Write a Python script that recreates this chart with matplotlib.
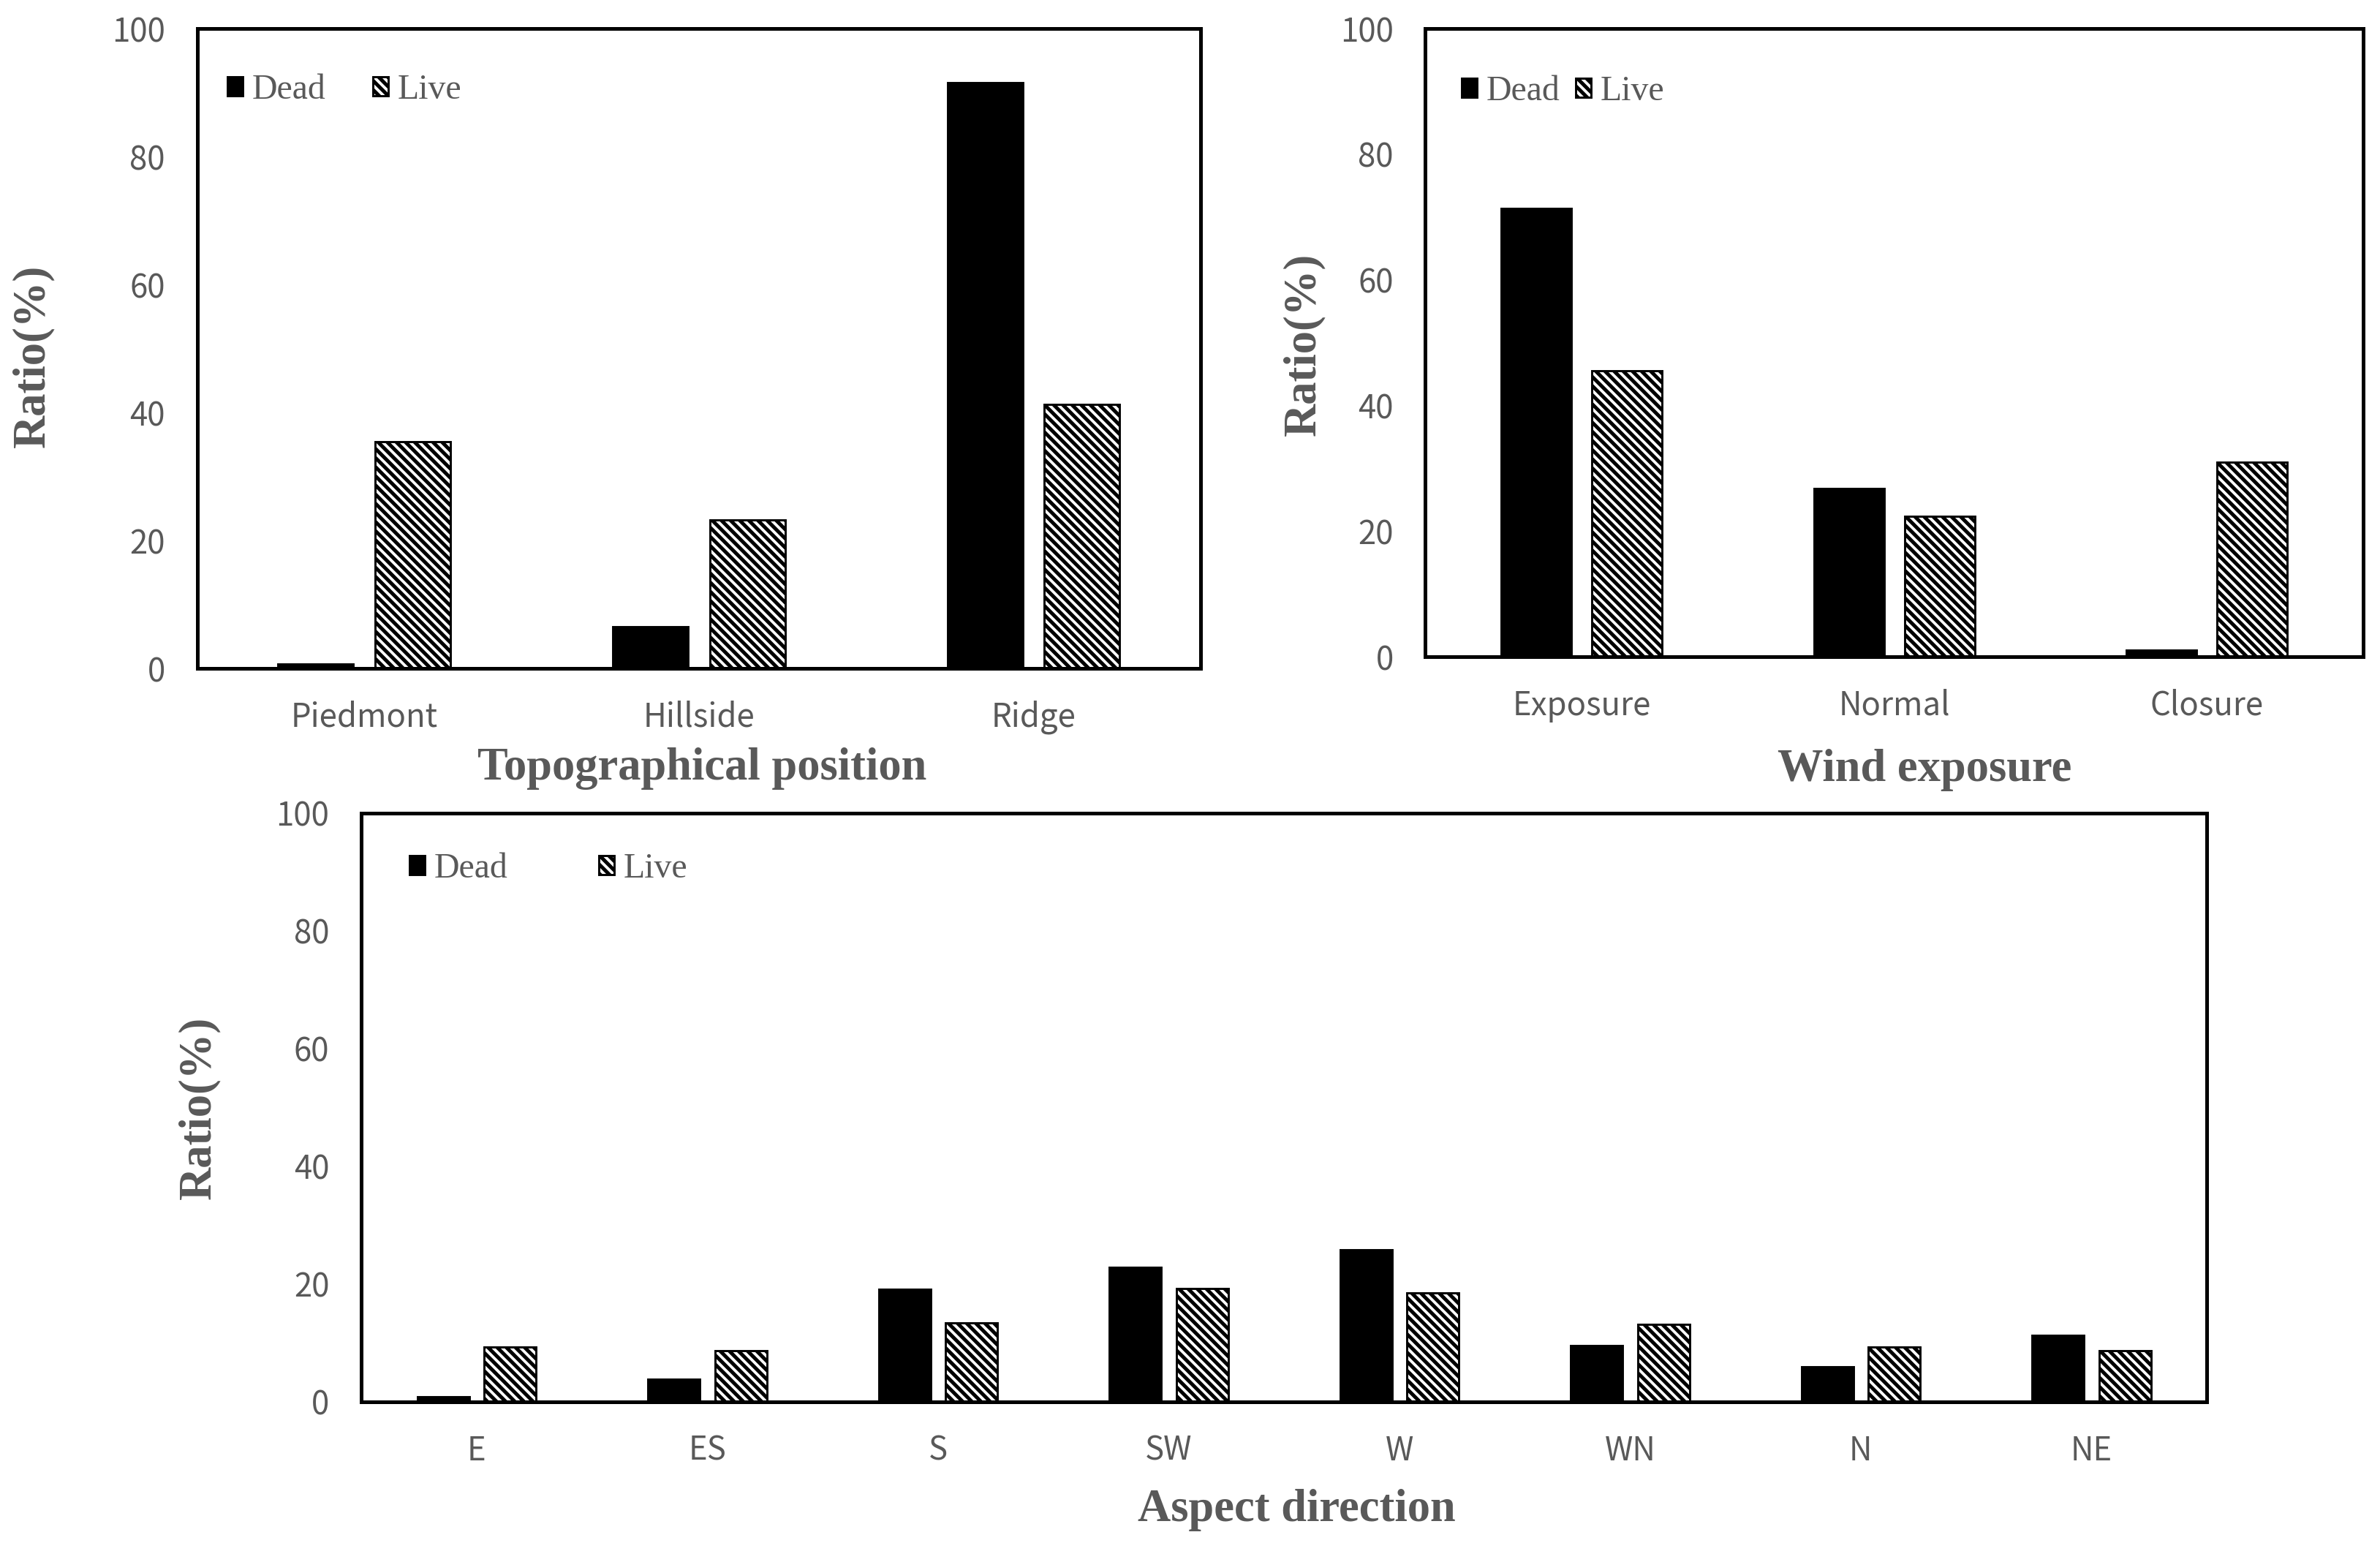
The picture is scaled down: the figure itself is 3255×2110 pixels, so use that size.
import matplotlib.pyplot as plt
import numpy as np

plt.rcParams['font.family'] = ['Noto Sans CJK KR', 'DejaVu Sans']
plt.rcParams['hatch.linewidth'] = 2.4

GRAY = "#595959"

# data
topo_labels = ["Piedmont", "Hillside", "Ridge"]
topo_dead = [0.7, 6.5, 91.5]
topo_live = [35.4, 23.2, 41.3]

wind_labels = ["Exposure", "Normal", "Closure"]
wind_dead = [71.4, 26.8, 1.0]
wind_live = [45.5, 22.3, 31.0]

aspect_labels = ["E", "ES", "S", "SW", "W", "WN", "N", "NE"]
aspect_dead = [0.9, 3.9, 19.1, 22.8, 25.8, 9.6, 5.9, 11.3]
aspect_live = [9.3, 8.7, 13.4, 19.3, 18.5, 13.1, 9.3, 8.7]


def draw_panel(ax, labels, dead, live, xlabel, leg_xy, colspace, xlab_xy, ylab_xy):
    x = np.arange(len(labels))
    w = 0.225
    off = 0.145
    b1 = ax.bar(x - off, dead, w, color="black", edgecolor="black", linewidth=1.4)
    b2 = ax.bar(x + off, live, w, color="white", edgecolor="black", linewidth=1.4,
                hatch="\\\\\\\\")
    ax.set_xlim(-0.5, len(labels) - 0.5)
    ax.set_ylim(0, 100)
    ax.set_yticks(range(0, 101, 20))
    ax.set_xticks(x)
    ax.set_xticklabels(labels)
    ax.tick_params(axis="both", length=0, labelsize=21, labelcolor=GRAY)
    ax.tick_params(axis="y", pad=21)
    ax.tick_params(axis="x", pad=21)
    for s in ax.spines.values():
        s.set_linewidth(2.4)
        s.set_color("black")
    ax.set_xlabel(xlabel, family="Liberation Serif", fontweight="bold",
                  fontsize=30, color=GRAY)
    ax.set_ylabel("Ratio(%)", family="Liberation Serif", fontweight="bold",
                  fontsize=30, color=GRAY)
    ax.xaxis.set_label_coords(*xlab_xy)
    ax.yaxis.set_label_coords(*ylab_xy)
    ax.legend([b1, b2], ["Dead", "Live"], ncol=2, loc="center left",
              bbox_to_anchor=leg_xy, frameon=False, borderpad=0, borderaxespad=0,
              handlelength=0.45, handleheight=0.45, handletextpad=0.25,
              columnspacing=colspace, labelcolor=GRAY,
              prop={"family": "Liberation Serif", "size": 23})


fig = plt.figure(figsize=(21.7, 2110 / 150), dpi=150)

ax1 = fig.add_axes([0.0828, 0.5668, 0.4217, 0.4147])
ax2 = fig.add_axes([0.5989, 0.5744, 0.3940, 0.4071])
ax3 = fig.add_axes([0.1518, 0.0915, 0.7754, 0.3815])

draw_panel(ax1, topo_labels, topo_dead, topo_live, "Topographical position",
           (0.030, 0.904), 1.35, (0.503, -0.123), (-0.142, 0.488))
draw_panel(ax2, wind_labels, wind_dead, wind_live, "Wind exposure",
           (0.0386, 0.900), 0.45, (0.532, -0.147), (-0.107, 0.497))
draw_panel(ax3, aspect_labels, aspect_dead, aspect_live, "Aspect direction",
           (0.026, 0.905), 2.6, (0.507, -0.1475), (-0.0765, 0.5))

fig.savefig("out.png", dpi=150)
